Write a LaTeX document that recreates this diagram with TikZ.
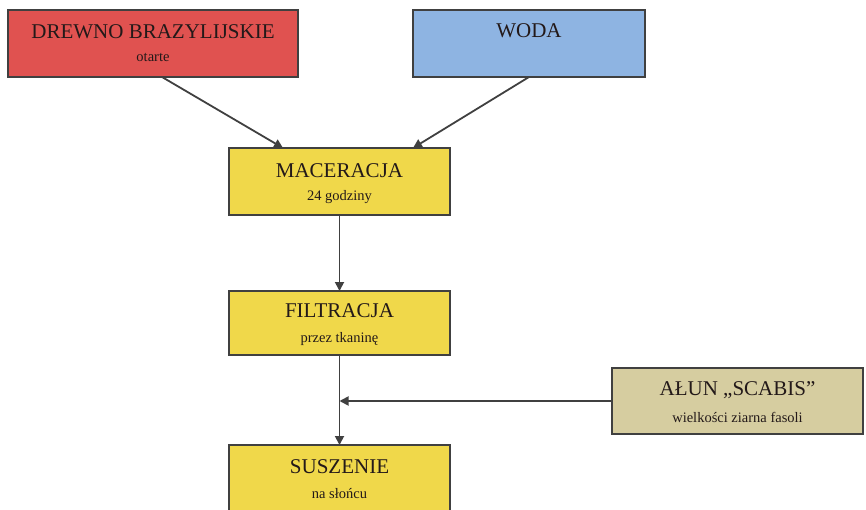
\documentclass[tikz,border=0pt]{standalone}
\usepackage{fontspec}
\setmainfont{Liberation Serif}
\usetikzlibrary{arrows.meta,calc}
\definecolor{redfill}{RGB}{224,82,80}
\definecolor{bluefill}{RGB}{142,180,226}
\definecolor{yelfill}{RGB}{240,216,74}
\definecolor{tanfill}{RGB}{214,205,160}
\definecolor{edge}{RGB}{64,64,64}
\definecolor{txt}{RGB}{35,25,25}
\begin{document}
\begin{tikzpicture}[x=1pt,y=-1pt,
  box/.style={draw=edge,line width=1.5pt,anchor=north west,inner sep=0pt,outer sep=0pt},
  ttl/.style={text=txt,font=\fontsize{21}{21}\selectfont,inner sep=0pt},
  sub/.style={text=txt,font=\fontsize{14.5}{15}\selectfont,inner sep=0pt},
  conn/.style={draw=edge,line width=1.8pt,-{Triangle[length=9pt,width=9pt]}}]
\useasboundingbox (0,0) rectangle (866,510);
\node[box,fill=redfill,minimum width=290pt,minimum height=67pt] (red) at (8,10) {};
\node[box,fill=bluefill,minimum width=232pt,minimum height=67pt] (blue) at (413,10) {};
\node[box,fill=yelfill,minimum width=221pt,minimum height=67pt] (mac) at (229,148) {};
\node[box,fill=yelfill,minimum width=221pt,minimum height=64pt] (fil) at (229,291) {};
\node[box,fill=tanfill,minimum width=251pt,minimum height=66pt] (alun) at (612,368) {};
\node[box,fill=yelfill,minimum width=221pt,minimum height=75pt] (sus) at (229,445) {};
% texts
\node[ttl] (redt) at ($(red.north)+(0,22)$) {DREWNO BRAZYLIJSKIE};
\node[sub] (reds) at ($(red.north)+(0,47)$) {otarte};
\node[ttl] (bluet) at ($(blue.north)+(0,21)$) {WODA};
\node[ttl] (mact) at ($(mac.north)+(0,23)$) {MACERACJA};
\node[sub] (macs) at ($(mac.north)+(0,49)$) {24 godziny};
\node[ttl] (filt) at ($(fil.north)+(0,20)$) {FILTRACJA};
\node[sub] (fils) at ($(fil.north)+(0,48)$) {przez tkaninę};
\node[ttl] (alunt) at ($(alun.north)+(0,22)$) {AŁUN „SCABIS”};
\node[sub] (aluns) at ($(alun.north)+(0,49)$) {wielkości ziarna fasoli};
\node[ttl] (sust) at ($(sus.north)+(0,22)$) {SUSZENIE};
\node[sub] (suss) at ($(sus.north)+(0,49)$) {na słońcu};
% connectors
\draw[conn] ($(red.south)+(9,0)$) -- ($(mac.north west)+(54,0)$);
\draw[conn] (blue.south) -- ($(mac.north west)+(184,0)$);
\draw[conn] (mac.south) -- (fil.north);
\draw[conn] (fil.south) -- (sus.north);
\coordinate (join) at (fil.south |- alun.west);
\draw[conn] (alun.west) -- (join);
\end{tikzpicture}
\end{document}
